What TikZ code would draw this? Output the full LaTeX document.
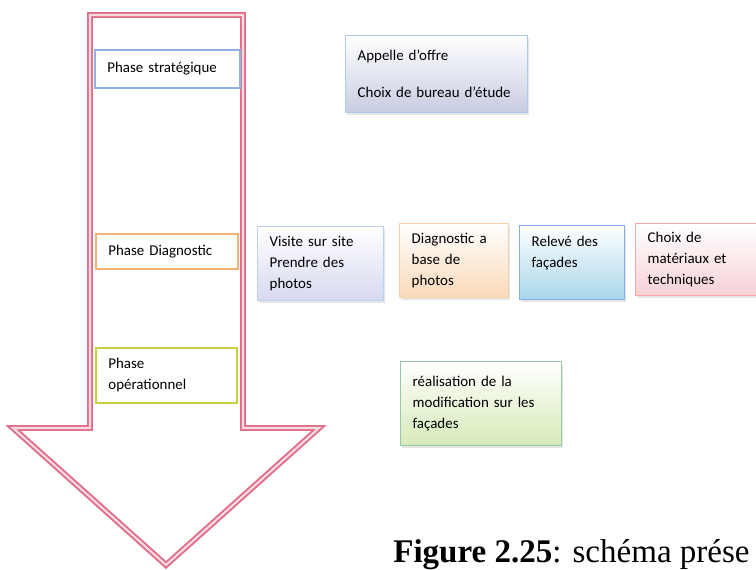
\documentclass[tikz,border=0pt]{standalone}
\usepackage{fontspec}
\setmainfont{Carlito}
\newfontfamily\figfont{Liberation Serif}
\usetikzlibrary{shadows}
\definecolor{arrowpink}{rgb}{0.878,0.431,0.533}
\definecolor{stratblue}{rgb}{0.553,0.698,0.886}
\definecolor{diagorange}{rgb}{0.957,0.702,0.455}
\definecolor{operyellow}{rgb}{0.784,0.812,0.251}
\definecolor{appelgrey}{rgb}{0.784,0.800,0.882}
\definecolor{visitlav}{rgb}{0.839,0.851,0.941}
\definecolor{photopeach}{rgb}{0.980,0.851,0.722}
\definecolor{relevblue}{rgb}{0.659,0.839,0.918}
\definecolor{choixpink}{rgb}{0.961,0.820,0.839}
\definecolor{realgreen}{rgb}{0.839,0.918,0.722}

\begin{document}
\begin{tikzpicture}[
    phase/.style={draw=#1,line width=1pt,anchor=north west,align=left,
        inner xsep=0.25cm,inner ysep=0pt,font=\fontsize{8.5}{12}\selectfont},
    task/.style 2 args={draw=#1,line width=0.8pt,top color=white,bottom color=#2,
        drop shadow={opacity=0.2,shadow xshift=0.02cm,shadow yshift=-0.05cm},
        anchor=north west,align=left,inner xsep=0.24cm,inner ysep=0pt,
        font=\fontsize{8.5}{12}\selectfont}]

\useasboundingbox (0,0) rectangle (15.12,11.40);

% big arrow
\draw [arrowpink,line width=1.1pt,double=arrowpink!25,double distance=1.2pt]
    (1.80,11.10) -- (4.86,11.10) -- (4.86,2.84) -- (6.38,2.84)
    -- (3.32,0.10) -- (0.26,2.84) -- (1.80,2.84) -- cycle;

% phases
\node [phase=stratblue,minimum height=0.76cm,text width=2.40cm] (strategic)
    at (1.88,10.42) {Phase stratégique};
\node [phase=diagorange,minimum height=0.70cm,text width=2.34cm] (diagnostic)
    at (1.90,6.74) {Phase Diagnostic};
\node [phase=operyellow,minimum height=1.10cm,text width=2.32cm] (operational)
    at (1.90,4.46) {Phase\\opérationnel};

% tasks
\node [task={stratblue!70}{appelgrey},minimum height=1.54cm,text width=3.16cm] (tender)
    at (6.90,10.70) {Appelle d'offre\\[0.32cm]Choix de bureau d'étude};

\node [task={stratblue!60}{visitlav},minimum height=1.48cm,text width=2.04cm] (visit)
    at (5.14,6.88) {Visite sur site\\Prendre des\\photos};
\node [task={diagorange!60}{photopeach},minimum height=1.48cm,text width=1.70cm] (photos)
    at (7.98,6.94) {Diagnostic a\\base de\\photos};
\node [task={relevblue!80!blue}{relevblue},minimum height=1.48cm,text width=1.62cm] (survey)
    at (10.38,6.90) {Relevé des\\façades\\~};
\node [task={choixpink!80!red}{choixpink},minimum height=1.44cm,text width=2.22cm] (materials)
    at (12.70,6.94) {Choix de\\matériaux et\\techniques};

\node [task={realgreen!70!teal}{realgreen},minimum height=1.68cm,text width=2.74cm] (works)
    at (8.00,4.18) {réalisation de la\\modification sur les\\façades};

% caption
\node [anchor=base west,inner sep=0pt,
    font=\figfont\fontsize{18.8}{22}\selectfont] (caption)
    at (7.86,0.14) {\textbf{Figure 2.25}: schéma prése};

\end{tikzpicture}
\end{document}
